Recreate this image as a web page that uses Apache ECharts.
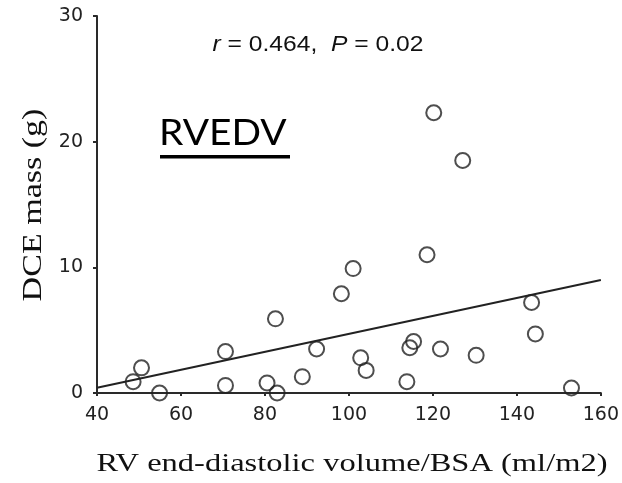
<!DOCTYPE html>
<html>
<head>
<meta charset="utf-8">
<script src="https://cdn.jsdelivr.net/npm/echarts@6/dist/echarts.min.js"></script>
<style>
  html, body { margin: 0; padding: 0; background: #fff; }
  #chart { width: 622px; height: 483px; }
</style>
</head>
<body>
<div id="chart"></div>
<script>
// RV end-diastolic volume index vs. DCE mass
const rvedvIndex = [48.6, 50.6, 54.9, 70.6, 70.6, 80.5, 82.5, 82.9, 88.9, 92.3,
                    98.2, 101.0, 102.8, 104.1, 113.8, 114.5, 115.4, 118.6, 120.2, 121.8,
                    127.1, 130.3, 143.5, 144.4, 153.0];
const dceMass    = [0.9, 2.0, 0.0, 3.3, 0.6, 0.8, 5.9, 0.0, 1.3, 3.5,
                    7.9, 9.9, 2.8, 1.8, 0.9, 3.6, 4.1, 11.0, 22.3, 3.5,
                    18.5, 3.0, 7.2, 4.7, 0.4];
// Regression line end points
const fitX = [40, 160];
const fitY = [0.42, 9.0];
const xTicks = [40, 60, 80, 100, 120, 140, 160];
const yTicks = [0, 10, 20, 30];

const xTitle = 'RV end-diastolic volume/BSA (ml/m2)';
const yTitle = 'DCE mass (g)';
const panelLabel = 'RVEDV';

const chart = echarts.init(document.getElementById('chart'));
const axisColor = '#2a2a2a';
const tickFont = { color: '#222', fontFamily: 'DejaVu Sans, sans-serif', fontSize: 19 };
const serif = '"Liberation Serif", "Times New Roman", serif';

chart.setOption({
  animation: false,
  grid: { left: 97, right: 19, top: 16, bottom: 90 },
  xAxis: {
    type: 'value', min: xTicks[0], max: xTicks[xTicks.length - 1], interval: 20,
    axisLine: { lineStyle: { color: axisColor, width: 2 } },
    axisTick: { length: 3, lineStyle: { color: axisColor, width: 2 } },
    axisLabel: Object.assign({ margin: 13 }, tickFont),
    splitLine: { show: false }
  },
  yAxis: {
    type: 'value', min: yTicks[0], max: yTicks[yTicks.length - 1], interval: 10,
    axisLine: { show: true, lineStyle: { color: axisColor, width: 2 } },
    axisTick: { show: true, length: 4, lineStyle: { color: axisColor, width: 2 } },
    axisLabel: Object.assign({ margin: 14 }, tickFont),
    splitLine: { show: false }
  },
  series: [
    {
      type: 'line',
      data: fitX.map((x, i) => [x, fitY[i]]),
      symbol: 'none',
      lineStyle: { color: '#222', width: 2 },
      z: 2
    },
    {
      type: 'scatter',
      data: rvedvIndex.map((x, i) => [x, dceMass[i]]),
      symbol: 'circle',
      symbolSize: 15,
      itemStyle: { color: 'rgba(255,255,255,0)', borderColor: '#222', borderWidth: 2 },
      z: 3
    }
  ],
  graphic: [
    {
      type: 'text', x: 318, y: 45, scaleX: 1.12,
      style: {
        text: '{i|r} = 0.464,  {i|P} = 0.02',
        font: '22px "Liberation Sans", Arial, sans-serif',
        fill: '#111', align: 'center', verticalAlign: 'middle',
        rich: { i: { fontStyle: 'italic', fontSize: 22, fontFamily: 'Liberation Sans, Arial, sans-serif', fill: '#111' } }
      }
    },
    {
      type: 'text', x: 159, y: 133, scaleX: 1.08,
      style: { text: panelLabel, font: '36px Lato, "Open Sans", sans-serif', fill: '#000', align: 'left', verticalAlign: 'middle' }
    },
    {
      type: 'rect', shape: { x: 160, y: 155, width: 130, height: 3.5 },
      style: { fill: '#000' }
    },
    {
      type: 'text', x: 352, y: 464, scaleX: 1.25,
      style: { text: xTitle, font: '26px ' + serif, fill: '#111', align: 'center', verticalAlign: 'middle' }
    },
    {
      type: 'text', x: 34, y: 205, rotation: Math.PI / 2, scaleX: 1.26,
      style: { text: yTitle, font: '27px ' + serif, fill: '#111', align: 'center', verticalAlign: 'middle' }
    }
  ]
});
</script>
</body>
</html>
